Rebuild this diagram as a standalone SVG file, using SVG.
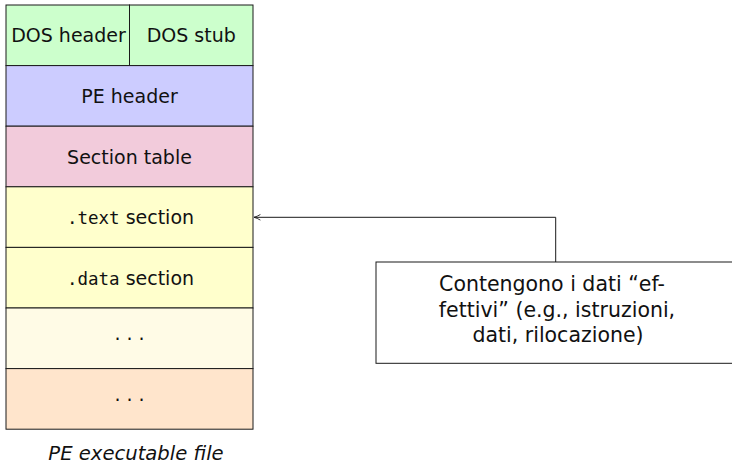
<svg xmlns="http://www.w3.org/2000/svg" width="732" height="465" viewBox="0 0 732 465">
  <style>
    .cell { stroke: #1a1a1a; stroke-width: 1; }
    .lbl { font-family: "DejaVu Sans", "Liberation Sans", sans-serif; font-size: 19px; fill: #111; text-anchor: middle; }
    .mono { font-family: "DejaVu Sans Mono", "Liberation Mono", monospace; font-size: 17.5px; }
    .note { font-family: "DejaVu Sans", "Liberation Sans", sans-serif; font-size: 20.5px; fill: #111; text-anchor: middle; }
    .cap { font-family: "DejaVu Sans", "Liberation Sans", sans-serif; font-size: 19.6px; font-style: italic; fill: #111; text-anchor: middle; }
    .conn { fill: none; stroke: #1a1a1a; stroke-width: 1; }
  </style>
  <defs>
    <marker id="tip" viewBox="0 0 10 10" refX="9" refY="5" markerWidth="8" markerHeight="8" orient="auto-start-reverse" markerUnits="userSpaceOnUse">
      <path d="M1,1.5 Q5,4 9,5 Q5,6 1,8.5" fill="none" stroke="#1a1a1a" stroke-width="1.1"/>
    </marker>
  </defs>

  <rect width="732" height="465" fill="#ffffff"/>

  <g id="dos-header">
    <rect class="cell" x="6" y="5" width="123.5" height="60.6" fill="#ccffcc"/>
    <text class="lbl" x="68.5" y="42.3">DOS header</text>
  </g>
  <g id="dos-stub">
    <rect class="cell" x="129.5" y="5" width="123.5" height="60.6" fill="#ccffcc"/>
    <text class="lbl" x="191.2" y="42.3">DOS stub</text>
  </g>
  <g id="pe-header">
    <rect class="cell" x="6" y="65.6" width="247" height="60.6" fill="#ccccff"/>
    <text class="lbl" x="129.5" y="102.9">PE header</text>
  </g>
  <g id="section-table">
    <rect class="cell" x="6" y="126.2" width="247" height="60.6" fill="#f2cbdb"/>
    <text class="lbl" x="129.5" y="163.5">Section table</text>
  </g>
  <g id="text-section">
    <rect class="cell" x="6" y="186.8" width="247" height="60.6" fill="#ffffcc"/>
    <text class="lbl" x="130.5" y="224.1"><tspan class="mono">.text</tspan> section</text>
  </g>
  <g id="data-section">
    <rect class="cell" x="6" y="247.4" width="247" height="60.6" fill="#ffffcc"/>
    <text class="lbl" x="130.5" y="284.7"><tspan class="mono">.data</tspan> section</text>
  </g>
  <g id="more-sections">
    <rect class="cell" x="6" y="308" width="247" height="60.6" fill="#fffbe6"/>
    <text class="lbl" x="129.5" y="339.5">. . .</text>
  </g>
  <g id="trailing-data">
    <rect class="cell" x="6" y="368.6" width="247" height="60.6" fill="#ffe5cc"/>
    <text class="lbl" x="129.5" y="400.5">. . .</text>
  </g>

  <text class="cap" x="136" y="459.5">PE executable file</text>

  <g id="note">
    <rect class="cell" x="376" y="262" width="370" height="101.3" fill="#ffffff"/>
    <text class="note" x="552" y="291">Contengono i dati “ef-</text>
    <text class="note" x="557" y="316.5">fettivi” (e.g., istruzioni,</text>
    <text class="note" x="558" y="342">dati, rilocazione)</text>
  </g>

  <g id="connectors">
    <path class="conn" d="M555.7,262 V217.3 H254" marker-end="url(#tip)"/>
  </g>
</svg>
